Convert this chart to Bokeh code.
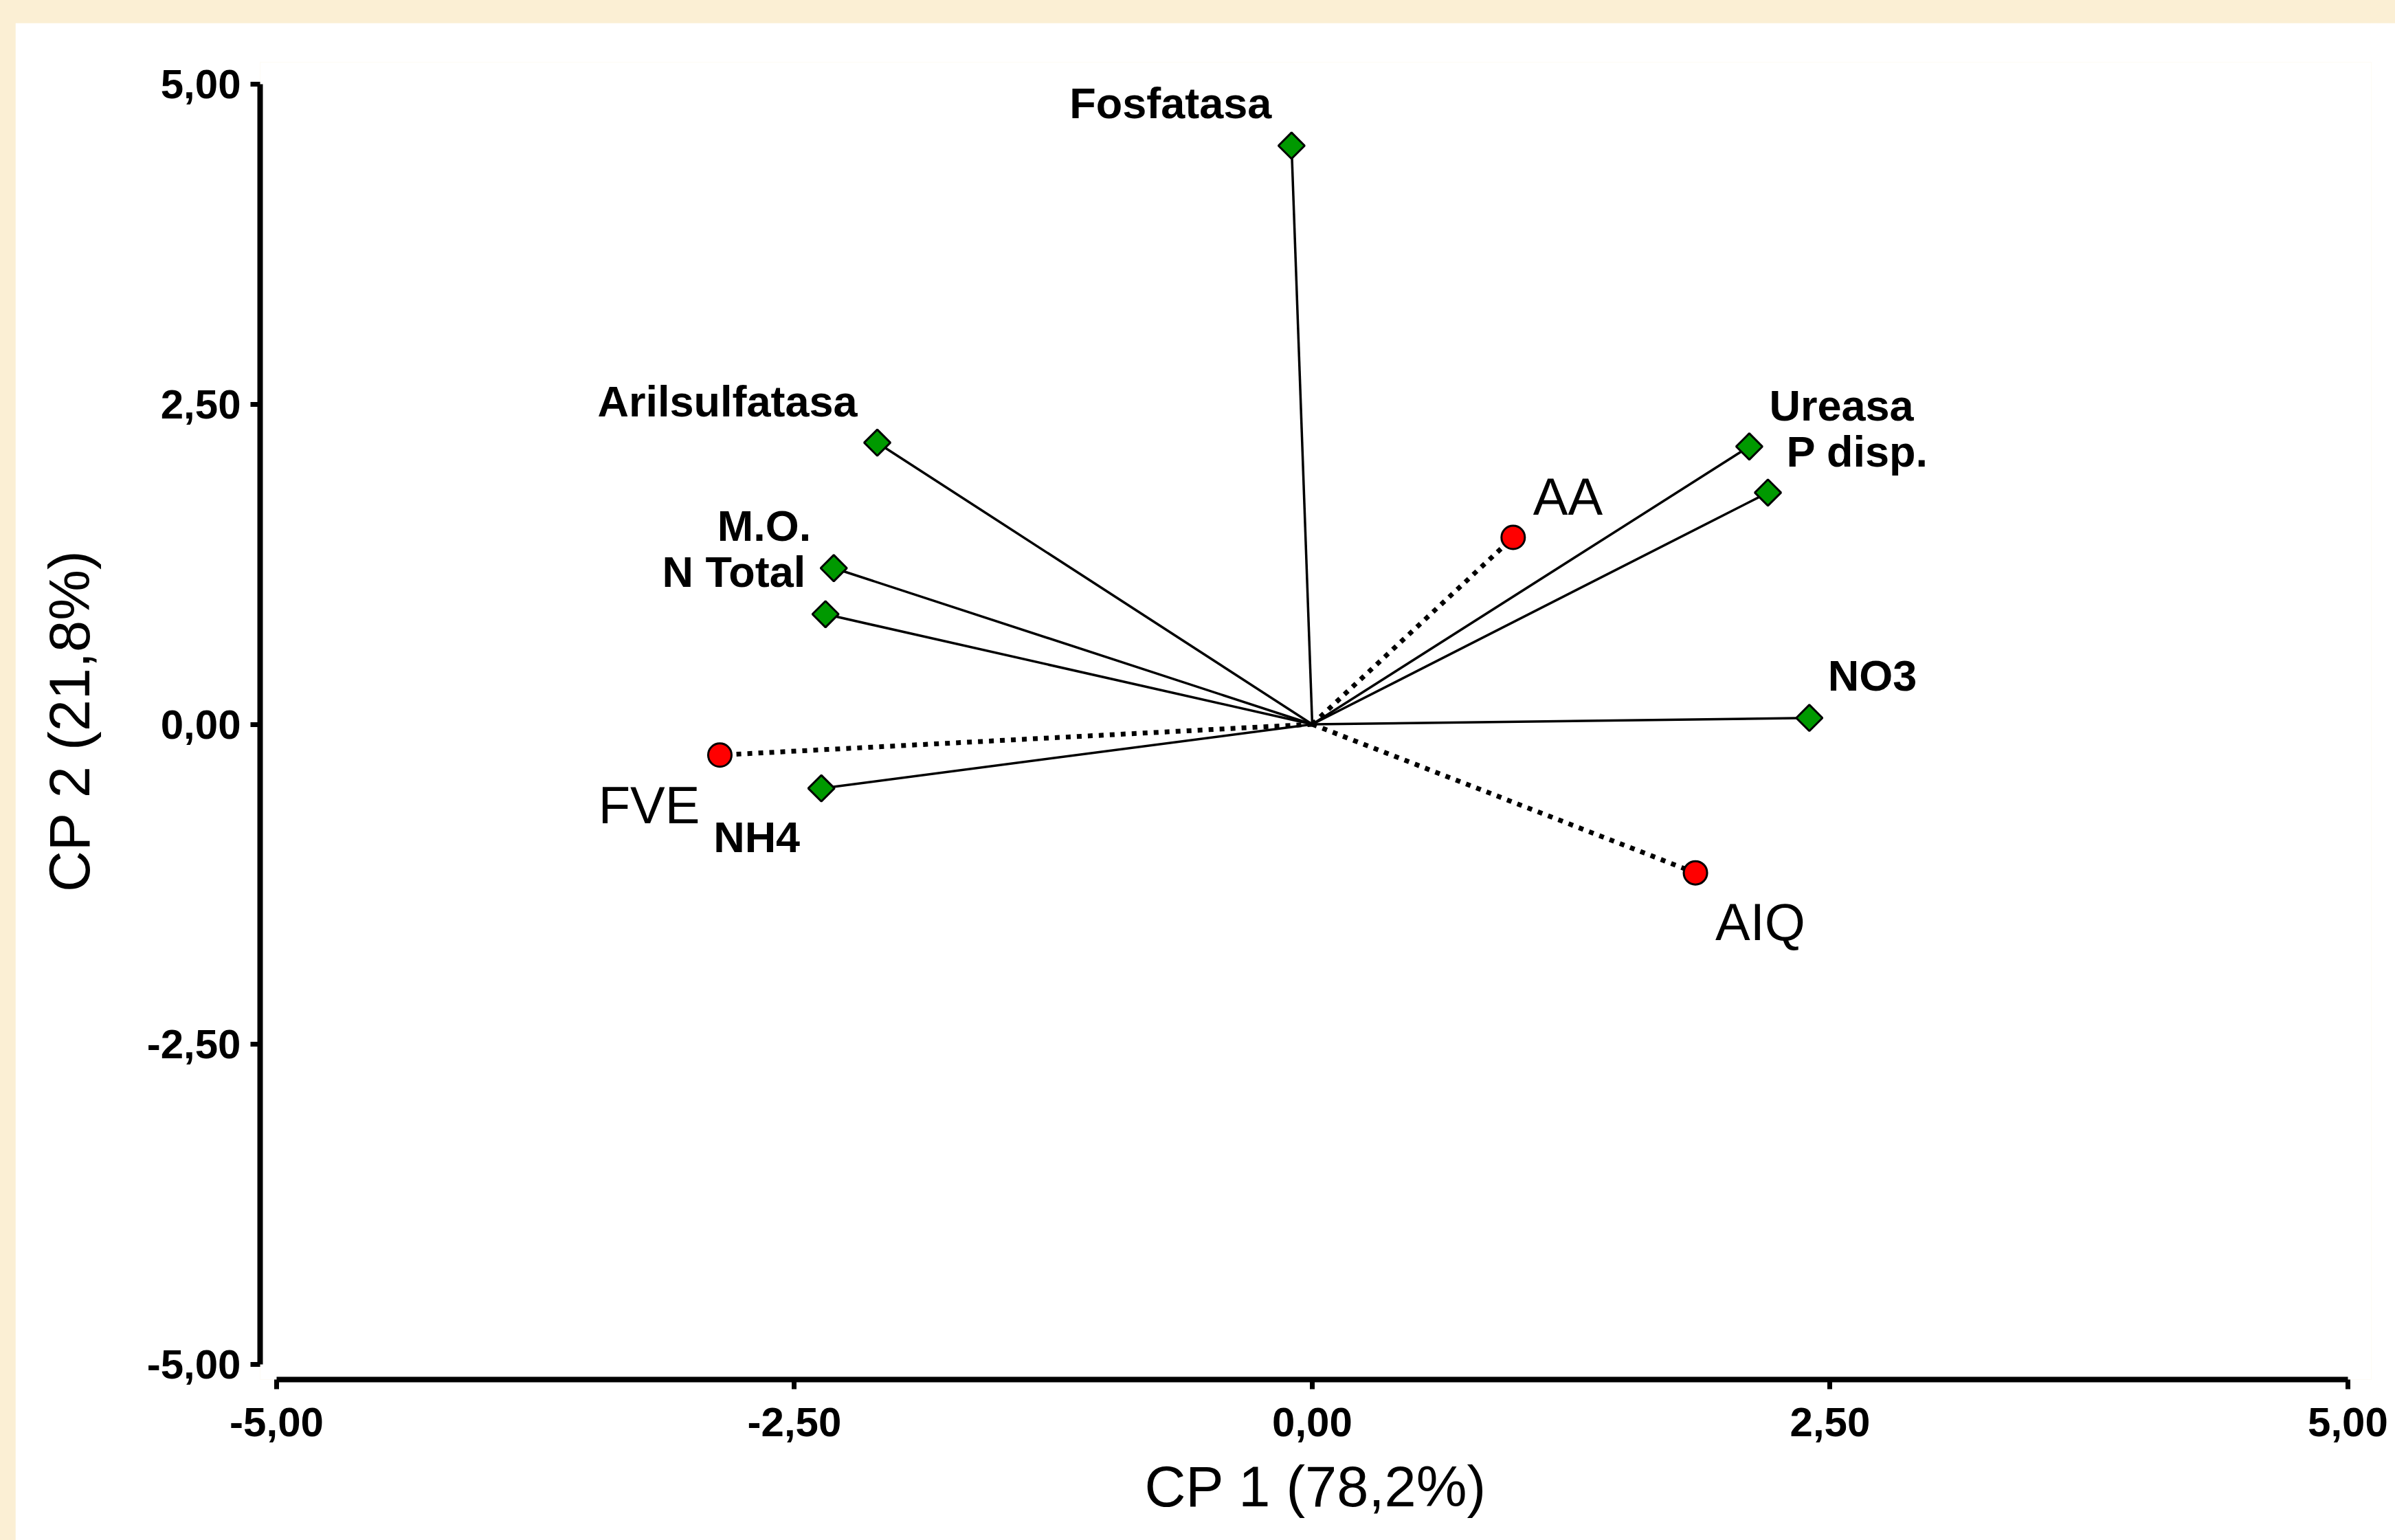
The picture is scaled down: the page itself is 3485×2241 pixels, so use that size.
from bokeh.plotting import figure
from bokeh.models import ColumnDataSource, FixedTicker, Range1d, GlobalInlineStyleSheet
from bokeh.core.properties import value
from bokeh.embed import file_html
from bokeh.resources import INLINE

# ---------------- data ----------------
variables = ["Fosfatasa", "Arilsulfatasa", "M.O.", "N Total", "NH4", "Ureasa", "P disp.", "NO3"]
var_cp1 = [-0.10, -2.10, -2.31, -2.35, -2.37, 2.11, 2.20, 2.40]
var_cp2 = [4.52, 2.20, 1.22, 0.86, -0.50, 2.17, 1.81, 0.05]

treatments = ["AA", "FVE", "AIQ"]
trt_cp1 = [0.97, -2.86, 1.85]
trt_cp2 = [1.46, -0.24, -1.16]

origin_cp1 = 0.0
origin_cp2 = 0.0

tick_values = [-5.0, -2.5, 0.0, 2.5, 5.0]
tick_labels = ["-5,00", "-2,50", "0,00", "2,50", "5,00"]
x_title = "CP 1 (78,2%)"
y_title = "CP 2 (21,8%)"

# ---------------- label placement (screen px) ----------------
var_dx = [-29, -29, -33, -29, -31, 29, 27, 27]
var_dy = [-62, -60, -62, -62, 71, -60, -60, -62]
var_align = ["right", "right", "right", "right", "right", "left", "left", "left"]
trt_dx = [29, -29, 29]
trt_dy = [-60, 73, 71]
trt_align = ["left", "right", "left"]

FONT = "Liberation Sans"
BEIGE = "#FBEFD4"

p = figure(width=3463, height=2208,
           x_range=Range1d(-5.0796, 5.113), y_range=Range1d(-5.118, 5.172),
           output_backend="svg", toolbar_location=None,
           min_border_left=356, min_border_right=35,
           min_border_top=57, min_border_bottom=234)
p.stylesheets = [GlobalInlineStyleSheet(css=(
    "html, body {margin:0 !important; overflow:hidden; background:%s;}"
    "body {padding:33px 0 0 22px !important;}" % BEIGE))]

p.grid.visible = False
p.outline_line_color = None
p.background_fill_color = "white"
p.border_fill_color = "white"

for ax in (p.xaxis[0], p.yaxis[0]):
    ax.bounds = (-5, 5)
    ax.ticker = FixedTicker(ticks=tick_values, minor_ticks=[])
    ax.major_label_overrides = dict(zip(tick_values, tick_labels))
    ax.axis_line_width = 8
    ax.axis_line_color = "black"
    ax.major_tick_line_width = 7
    ax.major_tick_line_color = "black"
    ax.major_tick_out = 14
    ax.major_tick_in = 0
    ax.minor_tick_out = 0
    ax.minor_tick_in = 0
    ax.major_label_text_font = FONT
    ax.major_label_text_font_style = "bold"
    ax.major_label_text_font_size = "60px"
    ax.major_label_text_color = "black"
    ax.axis_label_text_font = FONT
    ax.axis_label_text_font_style = "normal"
    ax.axis_label_text_font_size = "83px"
    ax.axis_label_text_color = "black"

p.xaxis[0].axis_label = x_title
p.yaxis[0].axis_label = y_title
p.xaxis[0].major_label_standoff = 27
p.xaxis[0].axis_label_standoff = 24
p.yaxis[0].major_label_standoff = 14
p.yaxis[0].axis_label_standoff = 63

# vectors from origin
p.segment(x0=[origin_cp1] * len(var_cp1), y0=[origin_cp2] * len(var_cp2),
          x1=var_cp1, y1=var_cp2, line_color="black", line_width=3.5)
p.segment(x0=[origin_cp1] * len(trt_cp1), y0=[origin_cp2] * len(trt_cp2),
          x1=trt_cp1, y1=trt_cp2, line_color="black", line_width=7,
          line_dash="7 9", line_cap="butt")

p.scatter(var_cp1, var_cp2, marker="square", size=27, angle=0.785398,
          fill_color="#009900", line_color="black", line_width=3)
p.scatter(trt_cp1, trt_cp2, marker="circle", size=34,
          fill_color="#FF0000", line_color="black", line_width=3)

def add_labels(names, xs, ys, dxs, dys, aligns, style, size):
    for al in ("left", "right"):
        idx = [i for i, a in enumerate(aligns) if a == al]
        if not idx:
            continue
        src = ColumnDataSource(dict(
            x=[xs[i] for i in idx], y=[ys[i] for i in idx],
            t=[names[i] for i in idx],
            dx=[dxs[i] for i in idx], dy=[dys[i] for i in idx]))
        p.text(x="x", y="y", text="t", x_offset="dx", y_offset="dy", source=src,
               text_align=al, text_baseline="middle",
               text_font=value(FONT), text_font_style=style,
               text_font_size=size, text_color="black")

add_labels(variables, var_cp1, var_cp2, var_dx, var_dy, var_align, "bold", "63px")
add_labels(treatments, trt_cp1, trt_cp2, trt_dx, trt_dy, trt_align, "normal", "76px")

open("out.html", "w").write(file_html(p, INLINE))
